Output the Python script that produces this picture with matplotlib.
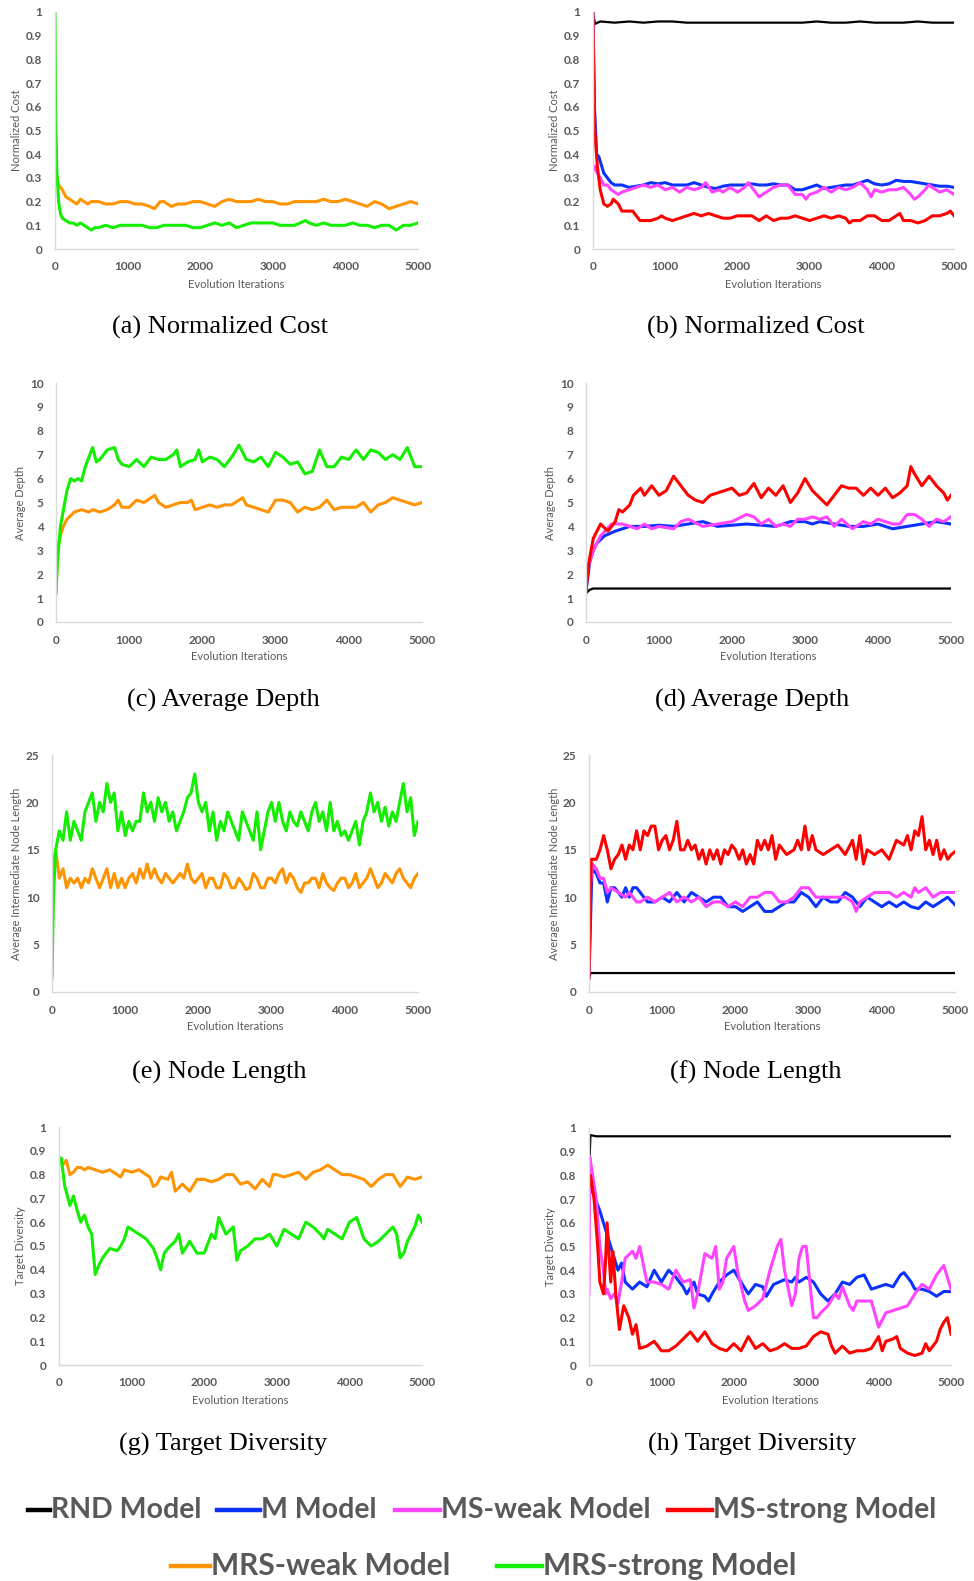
import matplotlib
matplotlib.use("Agg")
import matplotlib.pyplot as plt
from matplotlib.lines import Line2D

# Series are (iteration, value) samples read per model

# (a) Normalized Cost
a_mrs_weak = [(0, 0.53), (10, 0.35), (25, 0.3), (50, 0.27), (100, 0.25), (150, 0.22), (200, 0.21), (250, 0.2),
              (300, 0.19), (350, 0.21), (400, 0.2), (450, 0.19), (500, 0.2), (600, 0.2), (700, 0.19), (800, 0.19),
              (900, 0.2), (1000, 0.2), (1100, 0.19), (1200, 0.19), (1300, 0.18), (1370, 0.17), (1450, 0.2),
              (1500, 0.2), (1600, 0.18), (1700, 0.19), (1800, 0.19), (1900, 0.2), (2000, 0.2), (2100, 0.19),
              (2200, 0.18), (2300, 0.2), (2400, 0.21), (2500, 0.2), (2600, 0.2), (2700, 0.2), (2800, 0.21),
              (2900, 0.2), (3000, 0.2), (3100, 0.19), (3200, 0.19), (3300, 0.2), (3400, 0.2), (3500, 0.2),
              (3600, 0.2), (3700, 0.21), (3800, 0.2), (3900, 0.2), (4000, 0.21), (4100, 0.2), (4200, 0.19),
              (4300, 0.18), (4400, 0.2), (4500, 0.19), (4600, 0.17), (4700, 0.18), (4800, 0.19), (4900, 0.2),
              (5000, 0.19)]
a_mrs_strong = [(0, 1.0), (5, 0.75), (10, 0.55), (25, 0.33), (50, 0.2), (75, 0.15), (100, 0.13), (150, 0.12),
                (200, 0.11), (250, 0.11), (300, 0.1), (350, 0.11), (400, 0.1), (450, 0.09), (500, 0.08),
                (550, 0.09), (600, 0.09), (700, 0.1), (800, 0.09), (900, 0.1), (1000, 0.1), (1100, 0.1),
                (1200, 0.1), (1300, 0.09), (1400, 0.09), (1500, 0.1), (1600, 0.1), (1700, 0.1), (1800, 0.1),
                (1900, 0.09), (2000, 0.09), (2100, 0.1), (2200, 0.11), (2300, 0.1), (2400, 0.11), (2500, 0.09),
                (2600, 0.1), (2700, 0.11), (2800, 0.11), (2900, 0.11), (3000, 0.11), (3100, 0.1), (3200, 0.1),
                (3300, 0.1), (3450, 0.12), (3500, 0.11), (3600, 0.1), (3700, 0.11), (3800, 0.1), (3900, 0.1),
                (4000, 0.1), (4100, 0.11), (4200, 0.1), (4300, 0.1), (4400, 0.09), (4500, 0.1), (4600, 0.1),
                (4700, 0.08), (4800, 0.1), (4900, 0.1), (5000, 0.11)]

# (b) Normalized Cost
b_rnd = [(0, 1.0), (15, 0.97), (30, 0.95), (100, 0.96), (300, 0.955), (500, 0.96), (700, 0.955), (900, 0.96),
         (1100, 0.96), (1300, 0.955), (1500, 0.955), (1700, 0.955), (1900, 0.955), (2100, 0.955), (2300, 0.955),
         (2500, 0.955), (2700, 0.955), (2900, 0.955), (3100, 0.96), (3300, 0.955), (3500, 0.955), (3700, 0.96),
         (3900, 0.955), (4100, 0.955), (4300, 0.955), (4500, 0.96), (4700, 0.955), (4900, 0.955), (5000, 0.955)]
b_m = [(0, 1.0), (20, 0.6), (50, 0.4), (80, 0.39), (120, 0.35), (150, 0.32), (200, 0.3), (250, 0.28), (300, 0.27),
       (400, 0.27), (500, 0.26), (600, 0.265), (700, 0.27), (800, 0.28), (900, 0.275), (1000, 0.28), (1100, 0.27),
       (1200, 0.27), (1300, 0.27), (1400, 0.28), (1500, 0.27), (1600, 0.26), (1700, 0.255), (1800, 0.265),
       (1900, 0.27), (2000, 0.27), (2100, 0.27), (2200, 0.275), (2300, 0.27), (2400, 0.27), (2500, 0.275),
       (2600, 0.27), (2700, 0.27), (2800, 0.25), (2900, 0.25), (3000, 0.26), (3100, 0.27), (3200, 0.255),
       (3300, 0.26), (3400, 0.265), (3500, 0.27), (3600, 0.27), (3700, 0.28), (3800, 0.29), (3900, 0.275),
       (4000, 0.27), (4100, 0.275), (4200, 0.29), (4300, 0.285), (4400, 0.285), (4500, 0.28), (4600, 0.275),
       (4700, 0.27), (4800, 0.265), (4900, 0.265), (5000, 0.26)]
b_ms_weak = [(0, 0.33), (20, 0.35), (60, 0.32), (100, 0.3), (150, 0.27), (200, 0.27), (250, 0.25), (350, 0.23),
             (400, 0.24), (500, 0.25), (600, 0.26), (700, 0.27), (800, 0.26), (900, 0.27), (1000, 0.25),
             (1100, 0.26), (1200, 0.24), (1300, 0.26), (1400, 0.25), (1500, 0.26), (1560, 0.28), (1650, 0.24),
             (1750, 0.25), (1800, 0.24), (1900, 0.26), (2000, 0.24), (2100, 0.26), (2150, 0.28), (2250, 0.24),
             (2300, 0.22), (2400, 0.24), (2500, 0.26), (2600, 0.27), (2700, 0.27), (2800, 0.23), (2900, 0.23),
             (2950, 0.21), (3000, 0.23), (3100, 0.24), (3200, 0.26), (3300, 0.24), (3400, 0.26), (3500, 0.25),
             (3600, 0.26), (3700, 0.28), (3800, 0.25), (3850, 0.22), (3900, 0.25), (4000, 0.24), (4100, 0.25),
             (4200, 0.25), (4300, 0.26), (4400, 0.23), (4450, 0.21), (4500, 0.22), (4600, 0.25), (4650, 0.27),
             (4750, 0.25), (4800, 0.24), (4900, 0.25), (5000, 0.23)]
b_ms_strong = [(0, 1.0), (10, 0.75), (25, 0.5), (60, 0.35), (100, 0.25), (150, 0.19), (200, 0.18), (250, 0.19),
               (280, 0.21), (350, 0.19), (400, 0.16), (500, 0.16), (550, 0.16), (650, 0.12), (800, 0.12),
               (900, 0.13), (950, 0.14), (1000, 0.13), (1100, 0.12), (1200, 0.13), (1300, 0.14), (1400, 0.15),
               (1500, 0.14), (1600, 0.15), (1700, 0.14), (1800, 0.13), (1900, 0.13), (2000, 0.14), (2100, 0.14),
               (2200, 0.14), (2300, 0.12), (2400, 0.14), (2500, 0.12), (2600, 0.13), (2700, 0.13), (2800, 0.14),
               (2900, 0.13), (3000, 0.12), (3100, 0.13), (3200, 0.14), (3300, 0.13), (3400, 0.14), (3500, 0.13),
               (3550, 0.11), (3600, 0.12), (3700, 0.12), (3800, 0.14), (3900, 0.14), (4000, 0.12), (4100, 0.12),
               (4200, 0.14), (4250, 0.15), (4300, 0.12), (4400, 0.12), (4500, 0.11), (4600, 0.12), (4700, 0.14),
               (4800, 0.14), (4900, 0.15), (4950, 0.16), (5000, 0.14)]

# (c) Average Depth
c_mrs_weak = [(0, 1.2), (20, 3.0), (50, 3.5), (100, 4.0), (150, 4.3), (250, 4.6), (350, 4.7), (450, 4.6), (500, 4.7),
              (600, 4.6), (700, 4.7), (800, 4.9), (850, 5.1), (900, 4.8), (1000, 4.8), (1100, 5.1), (1200, 5.0),
              (1350, 5.3), (1400, 5.0), (1500, 4.8), (1600, 4.9), (1700, 5.0), (1800, 5.0), (1850, 5.1),
              (1900, 4.7), (2000, 4.8), (2100, 4.9), (2200, 4.8), (2300, 4.9), (2400, 4.9), (2550, 5.2),
              (2600, 4.9), (2700, 4.8), (2800, 4.7), (2900, 4.6), (3000, 5.1), (3100, 5.1), (3200, 5.0),
              (3300, 4.6), (3400, 4.8), (3500, 4.7), (3600, 4.8), (3700, 5.1), (3800, 4.7), (3900, 4.8),
              (4000, 4.8), (4100, 4.8), (4200, 5.0), (4300, 4.6), (4400, 4.9), (4500, 5.0), (4600, 5.2),
              (4700, 5.1), (4800, 5.0), (4900, 4.9), (5000, 5.0)]
c_mrs_strong = [(0, 1.2), (20, 2.5), (60, 4.0), (120, 5.0), (150, 5.5), (200, 6.0), (250, 5.9), (300, 6.0),
                (350, 5.9), (400, 6.5), (500, 7.3), (550, 6.7), (600, 6.8), (650, 7.0), (700, 7.2), (800, 7.3),
                (850, 6.8), (900, 6.6), (1000, 6.5), (1100, 6.8), (1200, 6.5), (1300, 6.9), (1400, 6.8),
                (1500, 6.8), (1600, 7.0), (1650, 7.2), (1700, 6.5), (1800, 6.7), (1900, 6.8), (1950, 7.2),
                (2000, 6.7), (2100, 6.9), (2200, 6.8), (2300, 6.5), (2400, 6.9), (2500, 7.4), (2600, 6.8),
                (2700, 6.7), (2800, 6.9), (2900, 6.5), (3000, 7.1), (3100, 6.9), (3200, 6.6), (3300, 6.7),
                (3400, 6.2), (3500, 6.3), (3600, 7.2), (3700, 6.5), (3800, 6.5), (3900, 6.9), (4000, 6.8),
                (4100, 7.2), (4200, 6.8), (4300, 7.2), (4400, 7.1), (4500, 6.8), (4600, 7.0), (4700, 6.8),
                (4800, 7.3), (4900, 6.5), (5000, 6.5)]

# (d) Average Depth
d_rnd = [(0, 1.2), (50, 1.35), (100, 1.4), (1000, 1.4), (2000, 1.4), (3000, 1.4), (4000, 1.4), (5000, 1.4)]
d_m = [(0, 1.3), (50, 2.5), (100, 3.0), (150, 3.3), (250, 3.6), (400, 3.8), (600, 4.0), (800, 4.0), (1000, 4.05),
       (1200, 4.0), (1400, 4.1), (1600, 4.2), (1800, 4.0), (2000, 4.05), (2200, 4.1), (2400, 4.05), (2600, 4.0),
       (2800, 4.2), (3000, 4.2), (3100, 4.1), (3200, 4.2), (3400, 4.1), (3600, 4.0), (3800, 4.0), (4000, 4.1),
       (4200, 3.9), (4400, 4.0), (4600, 4.1), (4800, 4.2), (5000, 4.1)]
d_ms_weak = [(0, 2.0), (100, 3.0), (200, 3.6), (350, 4.1), (500, 4.1), (700, 3.9), (800, 4.1), (900, 3.9),
             (1000, 4.0), (1200, 3.9), (1300, 4.2), (1400, 4.3), (1600, 4.0), (1800, 4.1), (2000, 4.2), (2200, 4.5),
             (2300, 4.4), (2400, 4.1), (2500, 4.3), (2600, 4.0), (2700, 4.1), (2800, 4.0), (2900, 4.3), (3000, 4.3),
             (3100, 4.4), (3200, 4.3), (3300, 4.4), (3400, 4.0), (3500, 4.3), (3650, 3.9), (3800, 4.2), (3900, 4.1),
             (4000, 4.3), (4200, 4.1), (4300, 4.1), (4400, 4.5), (4500, 4.5), (4600, 4.3), (4700, 4.0), (4800, 4.3),
             (4900, 4.2), (5000, 4.4)]
d_ms_strong = [(0, 1.3), (40, 2.5), (100, 3.5), (150, 3.8), (200, 4.1), (300, 3.8), (400, 4.2), (450, 4.7),
               (500, 4.6), (600, 4.9), (650, 5.3), (750, 5.6), (800, 5.3), (900, 5.7), (1000, 5.3), (1100, 5.5),
               (1200, 6.1), (1300, 5.7), (1400, 5.3), (1500, 5.1), (1600, 5.0), (1700, 5.3), (1800, 5.4),
               (1900, 5.5), (2000, 5.6), (2100, 5.3), (2200, 5.4), (2300, 5.8), (2400, 5.2), (2500, 5.6),
               (2600, 5.3), (2700, 5.7), (2800, 5.0), (2900, 5.4), (3000, 6.0), (3100, 5.5), (3200, 5.2),
               (3300, 4.9), (3400, 5.3), (3500, 5.7), (3600, 5.6), (3700, 5.6), (3800, 5.3), (3900, 5.6),
               (4000, 5.3), (4100, 5.6), (4200, 5.2), (4300, 5.4), (4400, 5.7), (4450, 6.5), (4500, 6.2),
               (4600, 5.7), (4700, 6.1), (4800, 5.7), (4900, 5.4), (4950, 5.1), (5000, 5.3)]

# (e) Node Length
e_mrs_weak = [(0, 8.0), (25, 14.0), (50, 15.0), (100, 12.0), (150, 13.0), (200, 11.0), (250, 12.0), (300, 11.5),
              (350, 12.0), (400, 11.0), (450, 12.0), (500, 11.5), (550, 13.0), (600, 12.0), (650, 11.0),
              (700, 12.0), (750, 13.0), (800, 11.0), (850, 12.5), (900, 11.0), (950, 12.0), (1000, 11.0),
              (1050, 12.0), (1100, 12.5), (1150, 11.5), (1200, 13.0), (1250, 12.0), (1300, 13.5), (1350, 12.0),
              (1400, 13.0), (1450, 12.0), (1500, 11.5), (1550, 12.5), (1600, 12.0), (1650, 11.5), (1700, 12.0),
              (1750, 12.5), (1800, 12.0), (1850, 13.5), (1900, 12.0), (1950, 11.5), (2000, 12.0), (2050, 12.5),
              (2100, 11.0), (2150, 12.0), (2200, 12.0), (2250, 11.0), (2300, 11.0), (2350, 12.5), (2400, 12.0),
              (2450, 11.0), (2500, 11.0), (2550, 12.0), (2600, 11.5), (2650, 10.8), (2700, 11.0), (2750, 12.5),
              (2800, 12.0), (2850, 11.0), (2900, 11.0), (2950, 12.0), (3000, 12.0), (3050, 11.5), (3100, 12.5),
              (3150, 13.0), (3200, 11.5), (3250, 12.5), (3300, 12.0), (3350, 11.0), (3400, 10.5), (3450, 11.5),
              (3500, 11.5), (3550, 12.0), (3600, 12.0), (3650, 11.0), (3700, 12.5), (3750, 11.5), (3800, 11.0),
              (3850, 10.7), (3900, 11.5), (3950, 12.0), (4000, 12.0), (4050, 11.0), (4100, 11.5), (4150, 12.5),
              (4200, 11.0), (4250, 11.5), (4300, 12.0), (4350, 13.0), (4400, 12.0), (4450, 11.0), (4500, 11.5),
              (4550, 12.5), (4600, 12.0), (4650, 11.5), (4700, 12.5), (4750, 13.0), (4800, 12.0), (4850, 11.5),
              (4900, 11.0), (4950, 12.0), (5000, 12.5)]
e_mrs_strong = [(0, 1.5), (20, 10.0), (50, 15.0), (100, 17.0), (150, 16.0), (200, 19.0), (250, 16.0), (300, 18.0),
                (350, 17.0), (400, 16.0), (450, 19.0), (500, 20.0), (550, 21.0), (600, 18.0), (650, 20.0),
                (700, 19.0), (750, 22.0), (800, 20.0), (850, 21.0), (900, 17.0), (950, 19.0), (1000, 16.5),
                (1050, 18.0), (1100, 17.0), (1150, 18.0), (1200, 18.0), (1250, 21.0), (1300, 19.0), (1350, 20.0),
                (1400, 18.0), (1450, 20.5), (1500, 19.0), (1550, 20.0), (1600, 18.0), (1650, 19.0), (1700, 17.0),
                (1750, 18.0), (1800, 19.0), (1850, 20.5), (1900, 21.0), (1950, 23.0), (2000, 20.0), (2050, 19.0),
                (2100, 20.0), (2150, 17.0), (2200, 19.0), (2250, 16.0), (2300, 18.0), (2350, 17.0), (2400, 19.0),
                (2450, 18.0), (2500, 17.0), (2550, 16.0), (2600, 19.0), (2650, 18.0), (2700, 17.0), (2750, 16.0),
                (2800, 19.0), (2850, 15.0), (2900, 17.0), (2950, 19.0), (3000, 20.0), (3050, 18.0), (3100, 20.0),
                (3150, 18.0), (3200, 17.0), (3250, 19.0), (3300, 18.0), (3350, 17.5), (3400, 19.0), (3450, 18.0),
                (3500, 17.0), (3550, 19.0), (3600, 20.0), (3650, 18.0), (3700, 19.0), (3750, 17.0), (3800, 20.0),
                (3850, 17.0), (3900, 18.0), (3950, 16.5), (4000, 17.0), (4050, 16.0), (4100, 17.0), (4150, 18.0),
                (4200, 15.5), (4250, 18.0), (4300, 19.0), (4350, 21.0), (4400, 19.0), (4450, 20.0), (4500, 18.0),
                (4550, 19.5), (4600, 17.5), (4650, 19.0), (4700, 18.0), (4750, 20.0), (4800, 22.0), (4850, 19.0),
                (4900, 20.5), (4950, 16.5), (5000, 18.0)]

# (f) Node Length
f_rnd = [(0, 1.5), (20, 2.0), (1000, 2.0), (2000, 2.0), (3000, 2.0), (4000, 2.0), (5000, 2.0)]
f_m = [(0, 1.5), (40, 13.0), (100, 12.5), (150, 11.5), (200, 11.5), (250, 9.5), (300, 11.0), (350, 11.0),
       (400, 10.5), (450, 10.0), (500, 11.0), (550, 10.0), (600, 11.0), (650, 11.0), (700, 10.5), (750, 10.0),
       (800, 9.5), (900, 9.5), (1000, 10.0), (1100, 9.5), (1200, 10.5), (1300, 9.5), (1400, 10.5), (1500, 10.0),
       (1600, 9.5), (1700, 10.0), (1800, 10.0), (1900, 9.0), (2000, 9.0), (2100, 8.5), (2200, 9.0), (2300, 9.5),
       (2400, 8.5), (2500, 8.5), (2600, 9.0), (2700, 9.5), (2800, 9.5), (2900, 10.5), (3000, 10.0), (3100, 9.0),
       (3200, 10.0), (3300, 9.5), (3400, 9.5), (3500, 10.5), (3600, 10.0), (3700, 9.0), (3800, 10.0), (3900, 9.5),
       (4000, 9.0), (4100, 9.5), (4200, 9.0), (4300, 9.5), (4400, 9.0), (4500, 8.8), (4600, 9.5), (4700, 9.0),
       (4800, 9.5), (4900, 10.0), (5000, 9.2)]
f_ms_weak = [(0, 10.0), (50, 13.5), (100, 13.0), (150, 12.0), (200, 12.0), (250, 10.5), (300, 11.0), (400, 10.5),
             (500, 10.0), (550, 10.5), (600, 10.0), (650, 9.5), (700, 9.5), (800, 10.0), (900, 9.5), (1000, 10.0),
             (1100, 10.5), (1200, 9.5), (1300, 10.0), (1400, 9.5), (1500, 10.0), (1600, 9.0), (1700, 9.5),
             (1800, 9.5), (1900, 9.0), (2000, 9.5), (2100, 9.0), (2200, 10.0), (2300, 10.0), (2400, 10.5),
             (2500, 10.5), (2600, 9.5), (2700, 9.5), (2800, 10.0), (2900, 11.0), (3000, 11.0), (3100, 10.0),
             (3200, 10.0), (3300, 10.0), (3400, 10.0), (3500, 10.0), (3600, 9.5), (3650, 8.5), (3700, 9.5),
             (3800, 10.0), (3900, 10.5), (4000, 10.5), (4100, 10.5), (4200, 10.0), (4300, 10.5), (4400, 10.0),
             (4450, 11.0), (4500, 10.5), (4600, 11.0), (4700, 10.0), (4800, 10.5), (4900, 10.5), (5000, 10.5)]
f_ms_strong = [(0, 1.5), (30, 14.0), (100, 14.0), (150, 15.0), (200, 16.5), (250, 15.0), (300, 13.0), (350, 14.0),
               (400, 14.5), (450, 15.5), (500, 14.0), (550, 15.5), (600, 15.0), (650, 17.0), (700, 15.0),
               (750, 17.0), (800, 16.5), (850, 17.5), (900, 17.5), (950, 15.0), (1000, 16.0), (1050, 16.5),
               (1100, 15.0), (1150, 16.0), (1200, 18.0), (1250, 15.0), (1300, 15.0), (1350, 16.0), (1400, 15.0),
               (1450, 15.5), (1500, 14.0), (1550, 15.0), (1600, 13.5), (1650, 15.0), (1700, 14.0), (1750, 15.0),
               (1800, 13.5), (1850, 15.0), (1900, 14.5), (1950, 15.5), (2000, 15.0), (2050, 14.0), (2100, 15.0),
               (2150, 13.5), (2200, 14.5), (2250, 13.5), (2300, 16.0), (2350, 15.0), (2400, 16.0), (2450, 15.0),
               (2500, 16.5), (2550, 14.0), (2600, 15.5), (2700, 14.5), (2800, 15.0), (2850, 16.0), (2900, 15.0),
               (2950, 17.5), (3000, 15.0), (3050, 16.5), (3100, 15.0), (3200, 14.5), (3300, 15.0), (3400, 15.5),
               (3500, 14.5), (3600, 16.0), (3650, 14.0), (3700, 16.5), (3750, 13.5), (3800, 15.0), (3900, 14.5),
               (4000, 15.0), (4100, 14.0), (4200, 16.0), (4300, 15.5), (4350, 16.5), (4400, 15.0), (4450, 17.0),
               (4500, 16.5), (4550, 18.5), (4600, 15.0), (4650, 16.0), (4700, 14.5), (4750, 16.0), (4800, 14.0),
               (4850, 15.0), (4900, 14.0), (4950, 14.5), (5000, 14.8)]

# (g) Target Diversity
g_mrs_weak = [(0, 0.87), (50, 0.84), (100, 0.86), (150, 0.8), (200, 0.81), (250, 0.83), (300, 0.83), (350, 0.82),
              (400, 0.83), (500, 0.82), (600, 0.81), (700, 0.82), (800, 0.8), (850, 0.79), (900, 0.82), (1000, 0.81),
              (1100, 0.82), (1200, 0.8), (1250, 0.79), (1300, 0.75), (1350, 0.76), (1400, 0.79), (1500, 0.78),
              (1550, 0.81), (1600, 0.73), (1700, 0.76), (1800, 0.73), (1900, 0.78), (2000, 0.78), (2100, 0.77),
              (2200, 0.78), (2300, 0.8), (2400, 0.8), (2500, 0.76), (2600, 0.77), (2700, 0.74), (2800, 0.78),
              (2900, 0.75), (2950, 0.8), (3000, 0.8), (3100, 0.79), (3200, 0.8), (3300, 0.81), (3400, 0.78),
              (3500, 0.81), (3600, 0.82), (3700, 0.84), (3800, 0.82), (3900, 0.8), (4000, 0.8), (4100, 0.79),
              (4200, 0.78), (4300, 0.75), (4400, 0.78), (4500, 0.8), (4600, 0.8), (4700, 0.75), (4800, 0.79),
              (4900, 0.78), (5000, 0.79)]
g_mrs_strong = [(0, 0.85), (30, 0.87), (80, 0.75), (100, 0.73), (150, 0.67), (200, 0.71), (250, 0.65), (300, 0.6),
                (350, 0.63), (400, 0.58), (450, 0.55), (500, 0.38), (550, 0.42), (600, 0.45), (700, 0.49),
                (800, 0.48), (850, 0.5), (900, 0.53), (950, 0.58), (1000, 0.57), (1100, 0.55), (1200, 0.53),
                (1300, 0.49), (1350, 0.45), (1400, 0.4), (1450, 0.47), (1500, 0.49), (1600, 0.52), (1650, 0.55),
                (1700, 0.47), (1800, 0.52), (1900, 0.47), (2000, 0.47), (2100, 0.55), (2150, 0.53), (2200, 0.62),
                (2300, 0.55), (2400, 0.58), (2450, 0.44), (2500, 0.48), (2600, 0.5), (2700, 0.53), (2800, 0.53),
                (2900, 0.55), (3000, 0.5), (3100, 0.57), (3200, 0.55), (3300, 0.53), (3400, 0.6), (3500, 0.58),
                (3600, 0.55), (3650, 0.53), (3700, 0.57), (3800, 0.55), (3900, 0.53), (4000, 0.6), (4100, 0.62),
                (4200, 0.53), (4300, 0.5), (4400, 0.52), (4500, 0.55), (4600, 0.58), (4650, 0.55), (4700, 0.45),
                (4750, 0.47), (4800, 0.52), (4900, 0.58), (4950, 0.63), (5000, 0.6)]

# (h) Target Diversity
h_rnd = [(0, 0.8), (20, 0.97), (100, 0.965), (1000, 0.965), (2000, 0.965), (3000, 0.965), (4000, 0.965), (5000, 0.965)]
h_m = [(0, 0.75), (50, 0.73), (150, 0.65), (200, 0.6), (250, 0.55), (300, 0.5), (350, 0.45), (400, 0.4), (450, 0.43),
       (500, 0.35), (600, 0.32), (700, 0.35), (800, 0.33), (900, 0.4), (1000, 0.35), (1100, 0.4), (1200, 0.37),
       (1300, 0.33), (1350, 0.3), (1450, 0.35), (1500, 0.3), (1600, 0.29), (1650, 0.27), (1700, 0.3), (1800, 0.35),
       (1900, 0.38), (2000, 0.4), (2100, 0.35), (2200, 0.3), (2300, 0.34), (2400, 0.33), (2450, 0.29), (2550, 0.34),
       (2700, 0.36), (2800, 0.35), (2850, 0.37), (2900, 0.35), (3000, 0.37), (3100, 0.35), (3200, 0.3), (3300, 0.27),
       (3400, 0.3), (3500, 0.35), (3600, 0.34), (3700, 0.37), (3800, 0.38), (3900, 0.32), (4000, 0.33), (4100, 0.34),
       (4200, 0.33), (4300, 0.38), (4350, 0.39), (4450, 0.35), (4500, 0.32), (4600, 0.32), (4700, 0.31),
       (4800, 0.29), (4900, 0.31), (5000, 0.31)]
h_ms_weak = [(0, 0.3), (10, 0.88), (50, 0.8), (100, 0.7), (150, 0.5), (200, 0.4), (230, 0.3), (250, 0.32), (300, 0.28),
             (350, 0.3), (400, 0.26), (450, 0.35), (500, 0.45), (600, 0.48), (650, 0.45), (700, 0.5), (800, 0.35),
             (900, 0.35), (1000, 0.34), (1100, 0.32), (1200, 0.4), (1300, 0.35), (1400, 0.36), (1450, 0.24),
             (1500, 0.3), (1600, 0.47), (1700, 0.45), (1750, 0.5), (1800, 0.32), (1850, 0.35), (1900, 0.45),
             (2000, 0.5), (2050, 0.4), (2150, 0.27), (2200, 0.23), (2300, 0.25), (2400, 0.28), (2500, 0.4),
             (2600, 0.5), (2650, 0.53), (2700, 0.4), (2800, 0.25), (2850, 0.3), (2900, 0.45), (2950, 0.5),
             (3000, 0.5), (3100, 0.2), (3150, 0.2), (3200, 0.22), (3300, 0.25), (3400, 0.3), (3450, 0.28),
             (3500, 0.33), (3600, 0.25), (3650, 0.23), (3700, 0.27), (3800, 0.27), (3900, 0.27), (4000, 0.16),
             (4100, 0.22), (4200, 0.23), (4300, 0.24), (4400, 0.25), (4500, 0.3), (4600, 0.34), (4700, 0.32),
             (4800, 0.38), (4900, 0.42), (5000, 0.32)]
h_ms_strong = [(0, 0.75), (20, 0.8), (70, 0.7), (120, 0.5), (150, 0.35), (200, 0.3), (230, 0.45), (250, 0.6),
               (300, 0.35), (330, 0.48), (370, 0.3), (420, 0.15), (480, 0.25), (550, 0.2), (600, 0.13), (650, 0.17),
               (700, 0.07), (800, 0.08), (900, 0.1), (1000, 0.06), (1100, 0.06), (1200, 0.08), (1300, 0.11),
               (1400, 0.14), (1500, 0.1), (1600, 0.14), (1700, 0.09), (1800, 0.07), (1900, 0.06), (2000, 0.09),
               (2100, 0.06), (2200, 0.12), (2300, 0.07), (2400, 0.09), (2500, 0.06), (2600, 0.07), (2700, 0.09),
               (2800, 0.07), (2900, 0.07), (3000, 0.08), (3100, 0.12), (3200, 0.14), (3300, 0.13), (3350, 0.08),
               (3400, 0.05), (3500, 0.08), (3600, 0.05), (3700, 0.06), (3800, 0.06), (3900, 0.07), (4000, 0.12),
               (4050, 0.06), (4100, 0.1), (4200, 0.11), (4250, 0.12), (4300, 0.07), (4400, 0.05), (4500, 0.04),
               (4600, 0.05), (4650, 0.09), (4700, 0.06), (4800, 0.1), (4850, 0.15), (4900, 0.18), (4950, 0.2),
               (5000, 0.13)]

models = ["RND Model", "M Model", "MS-weak Model", "MS-strong Model", "MRS-weak Model", "MRS-strong Model"]
colors = {"RND Model": "#000000", "M Model": "#0a32ff", "MS-weak Model": "#ff44ff",
          "MS-strong Model": "#ff0000", "MRS-weak Model": "#ff9400", "MRS-strong Model": "#14ee00"}

W, H = 974, 1581
GRAY = "#595959"
TICK_FONT = "Lato"

fig = plt.figure(figsize=(W / 100, H / 100), dpi=100)
fig.patch.set_facecolor("white")


def fx(x):
    return x / W


def fy(y):
    return 1 - y / H


def panel(box, series, yticks, ylabel, caption, ylab_x, cap_xy):
    left, top, right, bottom = box
    ax = fig.add_axes([fx(left), fy(bottom), fx(right - left), (bottom - top) / H])
    for name, pts in series:
        xs = [p[0] for p in pts]
        ys = [p[1] for p in pts]
        lw = 1.6 if name == "RND Model" else 2.2
        ax.plot(xs, ys, color=colors[name], lw=lw, solid_joinstyle="round")
    ax.set_xlim(0, 5000)
    ax.set_ylim(yticks[0], yticks[-1])
    ax.set_xticks([0, 1000, 2000, 3000, 4000, 5000])
    ax.set_yticks(yticks)
    ax.set_yticklabels([f"{v:g}" for v in yticks])
    ax.tick_params(length=0, colors=GRAY, labelsize=8.5, pad=9)
    for lab in ax.get_xticklabels() + ax.get_yticklabels():
        lab.set_fontfamily(TICK_FONT)
        lab.set_fontweight("bold")
    for side in ["top", "right"]:
        ax.spines[side].set_visible(False)
    for side in ["left", "bottom"]:
        ax.spines[side].set_color("#d9d9d9")
        ax.spines[side].set_linewidth(1.0)
    ax.set_facecolor("none")
    # axis titles
    fig.text(fx((left + right) / 2), fy(bottom + 35), "Evolution Iterations", ha="center", va="center",
             color=GRAY, fontsize=8, family=TICK_FONT)
    fig.text(fx(ylab_x), fy((top + bottom) / 2), ylabel, ha="center", va="center", rotation=90,
             color=GRAY, fontsize=8, family=TICK_FONT)
    fig.text(fx(cap_xy[0]), fy(cap_xy[1]), caption, ha="center", va="center", fontsize=19,
             family="Liberation Serif", color="black")
    return ax


ticks01 = [round(0.1 * i, 1) for i in range(11)]
ticks10 = list(range(0, 11))
ticks25 = [0, 5, 10, 15, 20, 25]

panel((55, 12, 418, 249), [("MRS-weak Model", a_mrs_weak), ("MRS-strong Model", a_mrs_strong)],
      ticks01, "Normalized Cost", "(a) Normalized Cost", 17, (220, 327))
panel((593, 12, 954, 249), [("RND Model", b_rnd), ("M Model", b_m), ("MS-weak Model", b_ms_weak),
                            ("MS-strong Model", b_ms_strong)],
      ticks01, "Normalized Cost", "(b) Normalized Cost", 555, (756, 327))
panel((56, 383, 422, 622), [("MRS-weak Model", c_mrs_weak), ("MRS-strong Model", c_mrs_strong)],
      ticks10, "Average Depth", "(c) Average Depth", 21, (223, 700))
panel((586, 383, 951, 622), [("RND Model", d_rnd), ("M Model", d_m), ("MS-weak Model", d_ms_weak),
                             ("MS-strong Model", d_ms_strong)],
      ticks10, "Average Depth", "(d) Average Depth", 551, (752, 700))
panel((52, 755, 418, 992), [("MRS-weak Model", e_mrs_weak), ("MRS-strong Model", e_mrs_strong)],
      ticks25, "Average Intermediate Node Length", "(e) Node Length", 17, (219, 1072))
panel((589, 755, 955, 992), [("RND Model", f_rnd), ("M Model", f_m), ("MS-weak Model", f_ms_weak),
                             ("MS-strong Model", f_ms_strong)],
      ticks25, "Average Intermediate Node Length", "(f) Node Length", 555, (756, 1072))
panel((59, 1127, 422, 1365), [("MRS-weak Model", g_mrs_weak), ("MRS-strong Model", g_mrs_strong)],
      ticks01, "Target Diversity", "(g) Target Diversity", 21, (223, 1444))
panel((589, 1128, 951, 1365), [("RND Model", h_rnd), ("M Model", h_m), ("MS-weak Model", h_ms_weak),
                               ("MS-strong Model", h_ms_strong)],
      ticks01, "Target Diversity", "(h) Target Diversity", 551, (752, 1444))

# shared legend, two rows
legend_rows = [
    (1510, 20.5, [("RND Model", 28, 50), ("M Model", 217, 260), ("MS-weak Model", 395, 440),
                  ("MS-strong Model", 668, 712)]),
    (1566, 21.5, [("MRS-weak Model", 171, 210), ("MRS-strong Model", 497, 542)]),
]
for y, size, entries in legend_rows:
    for name, x0, x1 in entries:
        fig.add_artist(Line2D([fx(x0), fx(x1)], [fy(y), fy(y)], color=colors[name], lw=3.2,
                              transform=fig.transFigure))
        fig.text(fx(x1 + 1), fy(y), name, ha="left", va="center", color=GRAY, fontsize=size,
                 family=TICK_FONT, fontweight="bold")

fig.savefig("out.png", dpi=100)
